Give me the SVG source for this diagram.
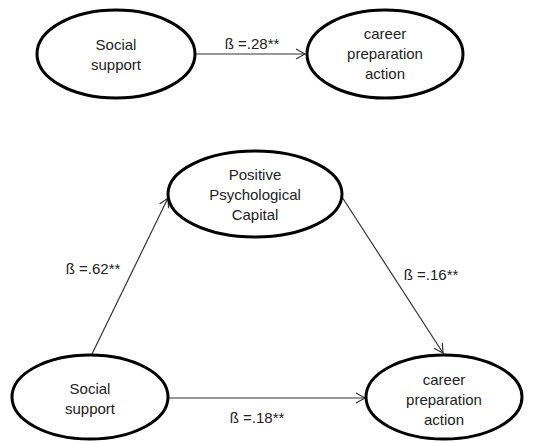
<svg xmlns="http://www.w3.org/2000/svg" width="535" height="442" viewBox="0 0 535 442">
<style>
.node ellipse{fill:#fff;stroke:#000;stroke-width:3}
text{font-family:"Liberation Sans",Arial,sans-serif;font-size:15px;fill:#222;text-anchor:middle;dominant-baseline:central}
.edge{stroke:#333;stroke-width:1.2;fill:none;marker-end:url(#arr)}
</style>
<defs>
<marker id="arr" markerWidth="12" markerHeight="12" refX="10" refY="6" orient="auto" markerUnits="userSpaceOnUse">
<path d="M1,1 L10,6 L1,11" fill="none" stroke="#333" stroke-width="1.2"/>
</marker>
</defs>
<rect width="535" height="442" fill="#fff"/>
<g id="connectors">
<line class="edge" x1="195" y1="54" x2="305" y2="54"/>
<line class="edge" x1="92" y1="354" x2="168" y2="198"/>
<line class="edge" x1="342" y1="197" x2="443" y2="353"/>
<line class="edge" x1="169" y1="398" x2="365" y2="398"/>
<text x="252" y="43">ß =.28**</text>
<text x="93" y="268">ß =.62**</text>
<text x="431" y="274">ß =.16**</text>
<text x="257" y="417">ß =.18**</text>
</g>
<g id="n1" class="node">
<ellipse cx="116" cy="54" rx="79" ry="44"/>
<text x="116" y="44">Social</text>
<text x="116" y="64">support</text>
</g>
<g id="n2" class="node">
<ellipse cx="385" cy="54" rx="78" ry="44"/>
<text x="385" y="33">career</text>
<text x="385" y="53">preparation</text>
<text x="385" y="73">action</text>
</g>
<g id="n3" class="node">
<ellipse cx="255" cy="194" rx="87" ry="43"/>
<text x="255" y="174">Positive</text>
<text x="255" y="194">Psychological</text>
<text x="255" y="214">Capital</text>
</g>
<g id="n4" class="node">
<ellipse cx="90" cy="397" rx="78" ry="42"/>
<text x="90" y="388">Social</text>
<text x="90" y="408">support</text>
</g>
<g id="n5" class="node">
<ellipse cx="444" cy="397" rx="78" ry="42"/>
<text x="444" y="379">career</text>
<text x="444" y="399">preparation</text>
<text x="444" y="419">action</text>
</g>
</svg>
